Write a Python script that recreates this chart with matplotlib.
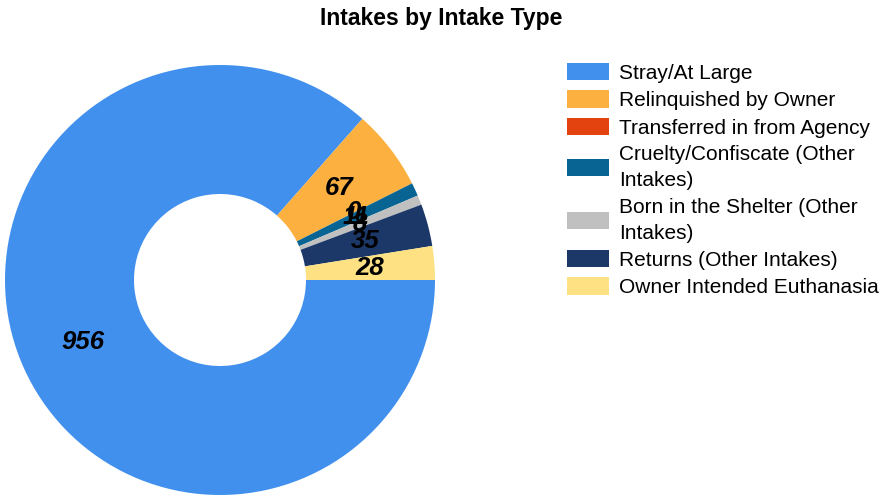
import matplotlib
matplotlib.use('Agg')
import matplotlib.pyplot as plt
import numpy as np

plt.rcParams['font.family'] = ['Liberation Sans', 'DejaVu Sans']

categories = ["Stray/At Large", "Relinquished by Owner", "Transferred in from Agency",
              "Cruelty/Confiscate (Other\nIntakes)", "Born in the Shelter (Other\nIntakes)",
              "Returns (Other Intakes)", "Owner Intended Euthanasia"]
values = [956, 67, 0, 11, 8, 35, 28]
colors = ["#4290ee", "#fbb040", "#e2430f", "#086593", "#c0c0c0", "#1c3868", "#fde183"]

fig = plt.figure(figsize=(8.82, 5), dpi=100)
ax = fig.add_axes([5 / 882, 5 / 500, 430 / 882, 430 / 500])

wedges, texts = ax.pie(values, colors=colors, startangle=0, counterclock=False, radius=1,
                       wedgeprops=dict(width=0.6, edgecolor='none'))
ax.set_xlim(-1, 1)
ax.set_ylim(-1, 1)
ax.set_aspect('equal')

# value labels sit in the middle of the ring
for w, v in zip(wedges, values):
    ang = np.deg2rad((w.theta1 + w.theta2) / 2)
    ax.text(0.70 * np.cos(ang), 0.70 * np.sin(ang), str(v), ha='center', va='center',
            fontsize=18.5, fontweight='bold', fontstyle='italic', color='black')

fig.text(0.5, 0.962, "Intakes by Intake Type", ha='center', va='center',
         fontsize=16.5, fontweight='bold')

leg = fig.legend(wedges, categories, loc='upper left', bbox_to_anchor=(567 / 882, 1 - 63 / 500),
                 frameon=False, fontsize=15, handlelength=2.0, handleheight=0.9,
                 handletextpad=0.5, labelspacing=0.36, borderaxespad=0, borderpad=0)
for t in leg.get_texts():
    t.set_linespacing(1.47)

plt.savefig("out.png", dpi=100)
